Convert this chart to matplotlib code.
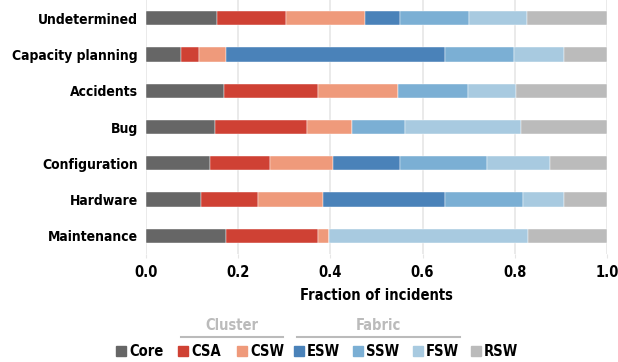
import matplotlib
matplotlib.use("Agg")
import matplotlib.pyplot as plt
from matplotlib.patches import Rectangle
from matplotlib.lines import Line2D
import numpy as np

plt.rcParams['font.family'] = ['DejaVu Sans']
plt.rcParams['font.stretch'] = 'condensed'
plt.rcParams['font.weight'] = 'bold'
plt.rcParams['axes.labelweight'] = 'bold'

categories = ["Undetermined", "Capacity planning", "Accidents", "Bug",
              "Configuration", "Hardware", "Maintenance"]
devices = ["Core", "CSA", "CSW", "ESW", "SSW", "FSW", "RSW"]
colors = ["#666666", "#cf4134", "#ef9a7b", "#4a82b9", "#7bafd4", "#a8cae0", "#bbbbbb"]

# cumulative right edges
edges = {
    "Undetermined":      [0.155, 0.304, 0.475, 0.551, 0.701, 0.826, 1.0],
    "Capacity planning": [0.077, 0.116, 0.174, 0.648, 0.798, 0.907, 1.0],
    "Accidents":         [0.169, 0.373, 0.547, 0.547, 0.698, 0.803, 1.0],
    "Bug":               [0.150, 0.350, 0.447, 0.447, 0.562, 0.814, 1.0],
    "Configuration":     [0.138, 0.269, 0.406, 0.551, 0.740, 0.876, 1.0],
    "Hardware":          [0.120, 0.243, 0.385, 0.648, 0.818, 0.907, 1.0],
    "Maintenance":       [0.174, 0.373, 0.397, 0.397, 0.397, 0.829, 1.0],
}

fig = plt.figure(figsize=(6.18, 3.62), dpi=100)
ax = fig.add_axes([146/618, 1-254/362, 461/618, 254/362])

y = np.arange(len(categories))
for i, dev in enumerate(devices):
    right = np.array([edges[c][i] for c in categories])
    left = np.array([edges[c][i-1] if i > 0 else 0.0 for c in categories])
    ax.barh(y, right - left, left=left, height=0.39, color=colors[i],
            edgecolor='white', linewidth=0.3, zorder=3)

ax.set_ylim(len(categories) - 0.5, -0.5)
ax.set_xlim(0, 1.0)
ax.set_yticks(y)
ax.set_yticklabels(categories, fontsize=10)
ax.set_xticks([0, 0.2, 0.4, 0.6, 0.8, 1.0])
ax.set_xticklabels(["0.0", "0.2", "0.4", "0.6", "0.8", "1.0"], fontsize=10.5)
ax.tick_params(axis='y', length=0, pad=6)
ax.tick_params(axis='x', length=3, color='#e6e6e6', pad=5)
ax.grid(axis='x', color='#e6e6e6', linewidth=1.2, zorder=0)
for s in ax.spines.values():
    s.set_visible(False)
ax.set_xlabel("Fraction of incidents", fontsize=10.5, labelpad=6)

# group labels
grp_col = '#bbbbbb'
fig.text(232/618, 1-325/362, "Cluster", ha='center', va='center', fontsize=10.5, color=grp_col)
fig.add_artist(Line2D([181/618, 283/618], [1-337/362]*2, color=grp_col, lw=1.5))
fig.text(378/618, 1-325/362, "Fabric", ha='center', va='center', fontsize=10.5, color=grp_col)
fig.add_artist(Line2D([297/618, 460/618], [1-337/362]*2, color=grp_col, lw=1.5))

# legend
sq_x = [121, 183, 242, 299, 358, 418, 476]
ly = 1 - 351/362
for x0, dev, col in zip(sq_x, devices, colors):
    fig.add_artist(Rectangle((x0/618 - 5/618, ly - 5/362), 10/618, 10/362,
                             color=col, transform=fig.transFigure))
    fig.text(x0/618 + 8/618, ly, dev, ha='left', va='center', fontsize=10.5)

fig.savefig("out.png", dpi=100)
